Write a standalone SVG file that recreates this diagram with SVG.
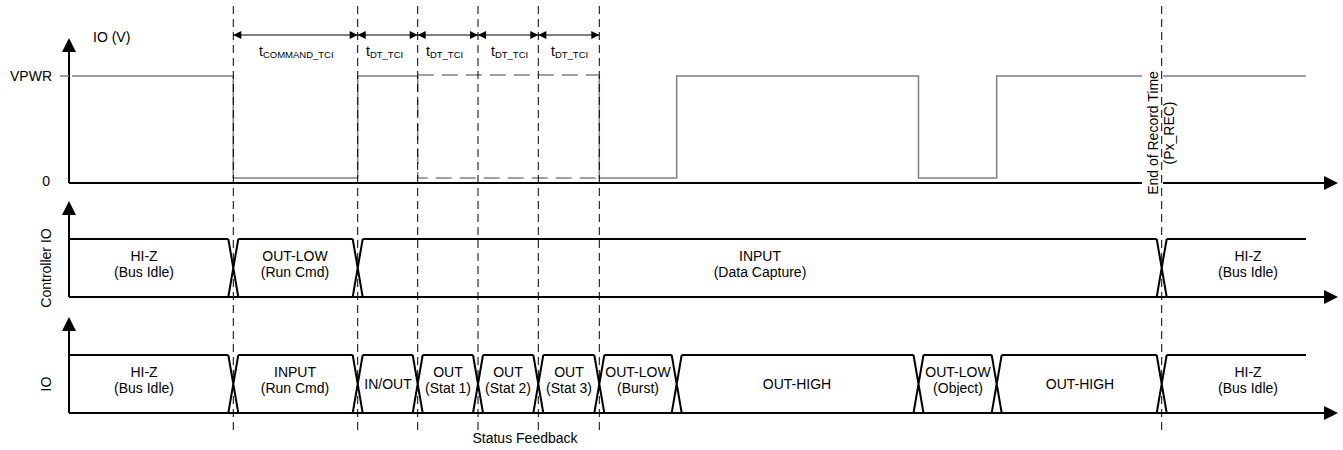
<svg xmlns="http://www.w3.org/2000/svg" width="1343" height="450" viewBox="0 0 1343 450">
<style>
.ax{stroke:#000;stroke-width:2;fill:none}
.bus{stroke:#000;stroke-width:2;fill:none}
.wave{stroke:#808080;stroke-width:1.5;fill:none}
.wdash{stroke:#808080;stroke-width:1.5;stroke-dasharray:16 8;fill:none}
.guide{stroke:#000;stroke-width:1;stroke-dasharray:8 5;fill:none}
.dim{stroke:#000;stroke-width:1;fill:none;marker-start:url(#dh);marker-end:url(#dh)}
text{font-family:"Liberation Sans",Arial,sans-serif;font-size:14px;fill:#000}
.c{text-anchor:middle}
.e{text-anchor:end}
.sub{font-size:9.5px}
</style>
<defs>
<marker id="ah" markerUnits="userSpaceOnUse" markerWidth="14" markerHeight="14" refX="0" refY="7" orient="auto" overflow="visible">
<path d="M0,0 L14,7 L0,14 z" fill="#000"/>
</marker>
<marker id="dh" markerUnits="userSpaceOnUse" markerWidth="8" markerHeight="8" refX="8" refY="4" orient="auto-start-reverse" overflow="visible">
<path d="M0,0 L8,4 L0,8 z" fill="#000"/>
</marker>
</defs>
<rect width="1343" height="450" fill="#fff"/>

<g id="axes">
<path class="ax" d="M69,183 V52" marker-end="url(#ah)"/>
<path class="ax" d="M69,183 H1324" marker-end="url(#ah)"/>
<path class="ax" d="M69,297 V215" marker-end="url(#ah)"/>
<path class="ax" d="M69,297 H1324" marker-end="url(#ah)"/>
<path class="ax" d="M69,413 V331" marker-end="url(#ah)"/>
<path class="ax" d="M69,413 H1324" marker-end="url(#ah)"/>
<text x="93" y="42">IO (V)</text>
<text class="e" x="52" y="81">VPWR</text>
<text class="e" x="50" y="186">0</text>
<text class="c" transform="translate(51,268) rotate(-90)">Controller IO</text>
<text class="c" transform="translate(51,384) rotate(-90)">IO</text>
</g>

<g id="waveform">
<path class="wave" d="M60,76 H69"/>
<path class="wave" d="M72,76 H233.3 V178 H357.7 V76 H417.7"/>
<path class="wdash" d="M417.7,76 V178 H599.3"/>
<path class="wdash" d="M417.7,75 H599.3"/>
<path class="wave" d="M599.3,76 V178 H676.7 V76 H918.5 V178 H996.7 V76 H1306"/>
</g>

<g id="end-of-record">
<rect x="1142" y="68" width="21" height="131" fill="#fff"/>
<text class="c" transform="translate(1158,133) rotate(-90)">End of Record Time</text>
<text class="c" transform="translate(1174,133) rotate(-90)">(Px_REC)</text>
</g>

<g id="controller-io">
<g id="c-hiz1"><path class="bus" d="M69,239 H228.3"/><text class="c" x="144" y="261">HI-Z</text><text class="c" x="144" y="277">(Bus Idle)</text></g>
<g id="c-outlow"><path class="bus" d="M238.3,239 H352.7"/><text class="c" x="295" y="261">OUT-LOW</text><text class="c" x="295" y="277">(Run Cmd)</text></g>
<g id="c-input"><path class="bus" d="M362.7,239 H1156.7"/><text class="c" x="760" y="261">INPUT</text><text class="c" x="760" y="277">(Data Capture)</text></g>
<g id="c-hiz2"><path class="bus" d="M1166.7,239 H1306"/><text class="c" x="1248" y="261">HI-Z</text><text class="c" x="1248" y="277">(Bus Idle)</text></g>
<g id="c-transitions">
<path class="bus" d="M228.3,239 L238.3,297 M238.3,239 L228.3,297"/>
<path class="bus" d="M352.7,239 L362.7,297 M362.7,239 L352.7,297"/>
<path class="bus" d="M1156.7,239 L1166.7,297 M1166.7,239 L1156.7,297"/>
</g>
</g>

<g id="io">
<g id="io-hiz1"><path class="bus" d="M69,355 H228.3"/><text class="c" x="144" y="377">HI-Z</text><text class="c" x="144" y="393">(Bus Idle)</text></g>
<g id="io-input"><path class="bus" d="M238.3,355 H352.7"/><text class="c" x="295" y="377">INPUT</text><text class="c" x="295" y="393">(Run Cmd)</text></g>
<g id="io-inout"><path class="bus" d="M362.7,355 H412.7"/><text class="c" x="388" y="389">IN/OUT</text></g>
<g id="io-stat1"><path class="bus" d="M422.7,355 H473"/><text class="c" x="448" y="377">OUT</text><text class="c" x="448" y="393">(Stat 1)</text></g>
<g id="io-stat2"><path class="bus" d="M483,355 H533.3"/><text class="c" x="508" y="377">OUT</text><text class="c" x="508" y="393">(Stat 2)</text></g>
<g id="io-stat3"><path class="bus" d="M543.3,355 H594.3"/><text class="c" x="569" y="377">OUT</text><text class="c" x="569" y="393">(Stat 3)</text></g>
<g id="io-burst"><path class="bus" d="M604.3,355 H671.7"/><text class="c" x="638" y="377">OUT-LOW</text><text class="c" x="638" y="393">(Burst)</text></g>
<g id="io-high1"><path class="bus" d="M681.7,355 H913.5"/><text class="c" x="797" y="389">OUT-HIGH</text></g>
<g id="io-object"><path class="bus" d="M923.5,355 H991.7"/><text class="c" x="958" y="377">OUT-LOW</text><text class="c" x="958" y="393">(Object)</text></g>
<g id="io-high2"><path class="bus" d="M1001.7,355 H1156.7"/><text class="c" x="1080" y="389">OUT-HIGH</text></g>
<g id="io-hiz2"><path class="bus" d="M1166.7,355 H1306"/><text class="c" x="1248" y="377">HI-Z</text><text class="c" x="1248" y="393">(Bus Idle)</text></g>
<g id="io-transitions">
<path class="bus" d="M228.3,355 L238.3,413 M238.3,355 L228.3,413"/>
<path class="bus" d="M352.7,355 L362.7,413 M362.7,355 L352.7,413"/>
<path class="bus" d="M412.7,355 L422.7,413 M422.7,355 L412.7,413"/>
<path class="bus" d="M473,355 L483,413 M483,355 L473,413"/>
<path class="bus" d="M533.3,355 L543.3,413 M543.3,355 L533.3,413"/>
<path class="bus" d="M594.3,355 L604.3,413 M604.3,355 L594.3,413"/>
<path class="bus" d="M671.7,355 L681.7,413 M681.7,355 L671.7,413"/>
<path class="bus" d="M913.5,355 L923.5,413 M923.5,355 L913.5,413"/>
<path class="bus" d="M991.7,355 L1001.7,413 M1001.7,355 L991.7,413"/>
<path class="bus" d="M1156.7,355 L1166.7,413 M1166.7,355 L1156.7,413"/>
</g>
<text class="c" x="525" y="443">Status Feedback</text>
</g>

<g id="connectors">
<path class="guide" d="M233.3,6 V430 M357.7,6 V430 M417.7,6 V430 M478,6 V430 M538.3,6 V430 M599.3,6 V430 M1161.7,6 V430"/>
<path class="dim" d="M233.3,35 H357.7"/>
<path class="dim" d="M357.7,35 H417.7"/>
<path class="dim" d="M417.7,35 H478"/>
<path class="dim" d="M478,35 H538.3"/>
<path class="dim" d="M538.3,35 H599.3"/>
<text x="259" y="56">t<tspan class="sub" dy="2">COMMAND_TCI</tspan></text>
<text x="366" y="56">t<tspan class="sub" dy="2">DT_TCI</tspan></text>
<text x="426" y="56">t<tspan class="sub" dy="2">DT_TCI</tspan></text>
<text x="491" y="56">t<tspan class="sub" dy="2">DT_TCI</tspan></text>
<text x="551" y="56">t<tspan class="sub" dy="2">DT_TCI</tspan></text>
</g>
</svg>
